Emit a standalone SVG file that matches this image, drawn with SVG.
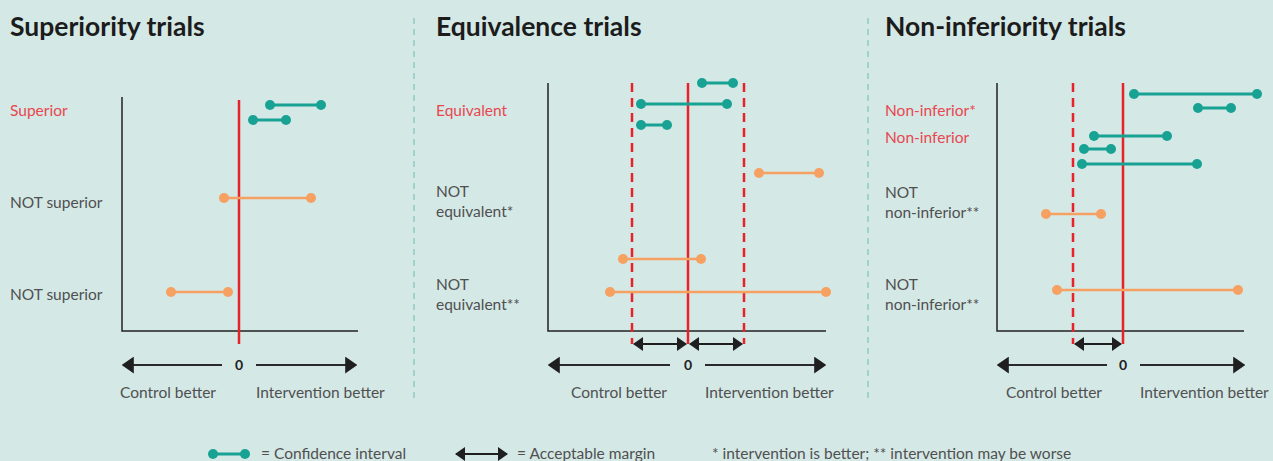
<svg xmlns="http://www.w3.org/2000/svg" width="1273" height="461" viewBox="0 0 1273 461">
<defs>
<marker id="ah" viewBox="0 0 10 14" refX="9" refY="7" markerWidth="12" markerHeight="17" markerUnits="userSpaceOnUse" orient="auto-start-reverse"><path d="M0,0 L10,7 L0,14 Z" fill="#1f1f1f"/></marker>
<marker id="ahs" viewBox="0 0 10 14" refX="9" refY="7" markerWidth="10" markerHeight="15" markerUnits="userSpaceOnUse" orient="auto-start-reverse"><path d="M0,0 L10,7 L0,14 Z" fill="#1f1f1f"/></marker>
</defs>
<style>
text{font-family:Lato,"Open Sans","Liberation Sans",sans-serif}
.title{font-size:26.5px;font-weight:bold;fill:#1c1c1c}
.lbl{font-size:15.5px;fill:#505050}
.red{fill:#e8474f}
.ax{stroke:#222;stroke-width:1.5;fill:none}
.zero{stroke:#e8222b;stroke-width:2.5}
.dash{stroke:#e8222b;stroke-width:2.5;stroke-dasharray:9,6}
.sep{stroke:#7cc3b8;stroke-width:1.2;stroke-dasharray:6,5}
.ba1{stroke:#2a2a2a;stroke-width:2;marker-end:url(#ah)}
.ma{stroke:#1f1f1f;stroke-width:2;marker-start:url(#ahs);marker-end:url(#ahs)}
.t line{stroke:#18a294;stroke-width:3}
.t circle{fill:#18a294}
.o line{stroke:#f6a062;stroke-width:2.5}
.o circle{fill:#f6a062}
.zt{font-size:14px;font-weight:bold;fill:#222;text-anchor:middle}
.leg{font-size:15.5px;fill:#505050}
</style>
<rect width="1273" height="461" fill="#d4e8e6"/>
<g id="separators">
<line class="sep" x1="414" y1="18" x2="414" y2="400"/>
<line class="sep" x1="868" y1="18" x2="868" y2="400"/>
</g>
<g id="panel-superiority">
<text class="title" x="10" y="36">Superiority trials</text>
<polyline class="ax" points="122,97 122,331 358,331"/>
<line class="zero" x1="239" y1="100" x2="239" y2="344"/>
<text class="lbl red" x="10" y="116">Superior</text>
<text class="lbl" x="10" y="208">NOT superior</text>
<text class="lbl" x="10" y="300">NOT superior</text>
<g class="t"><line x1="270" y1="105" x2="321" y2="105"/><circle cx="270" cy="105" r="5"/><circle cx="321" cy="105" r="5"/></g>
<g class="t"><line x1="253" y1="120" x2="286" y2="120"/><circle cx="253" cy="120" r="5"/><circle cx="286" cy="120" r="5"/></g>
<g class="o"><line x1="224" y1="198" x2="311" y2="198"/><circle cx="224" cy="198" r="5"/><circle cx="311" cy="198" r="5"/></g>
<g class="o"><line x1="171" y1="292" x2="228" y2="292"/><circle cx="171" cy="292" r="5"/><circle cx="228" cy="292" r="5"/></g>
<line class="ba1" x1="222" y1="365" x2="123" y2="365"/>
<line class="ba1" x1="256" y1="365" x2="356" y2="365"/>
<text class="zt" x="239" y="370">0</text>
<text class="lbl" x="120" y="398">Control better</text>
<text class="lbl" x="256" y="398">Intervention better</text>
</g>
<g id="panel-equivalence">
<text class="title" x="436" y="36">Equivalence trials</text>
<polyline class="ax" points="548,83 548,331 826,331"/>
<line class="dash" x1="632" y1="83" x2="632" y2="344"/>
<line class="dash" x1="744" y1="83" x2="744" y2="344"/>
<line class="zero" x1="688" y1="83" x2="688" y2="344"/>
<text class="lbl red" x="436" y="116">Equivalent</text>
<text class="lbl" x="436" y="197">NOT</text>
<text class="lbl" x="436" y="217">equivalent*</text>
<text class="lbl" x="436" y="290">NOT</text>
<text class="lbl" x="436" y="310">equivalent**</text>
<g class="t"><line x1="702" y1="83" x2="733" y2="83"/><circle cx="702" cy="83" r="5"/><circle cx="733" cy="83" r="5"/></g>
<g class="t"><line x1="641" y1="104" x2="727" y2="104"/><circle cx="641" cy="104" r="5"/><circle cx="727" cy="104" r="5"/></g>
<g class="t"><line x1="641" y1="125" x2="667" y2="125"/><circle cx="641" cy="125" r="5"/><circle cx="667" cy="125" r="5"/></g>
<g class="o"><line x1="759" y1="173" x2="819" y2="173"/><circle cx="759" cy="173" r="5"/><circle cx="819" cy="173" r="5"/></g>
<g class="o"><line x1="623" y1="259" x2="701" y2="259"/><circle cx="623" cy="259" r="5"/><circle cx="701" cy="259" r="5"/></g>
<g class="o"><line x1="610" y1="292" x2="826" y2="292"/><circle cx="610" cy="292" r="5"/><circle cx="826" cy="292" r="5"/></g>
<line class="ma" x1="634" y1="344" x2="686" y2="344"/>
<line class="ma" x1="690" y1="344" x2="742" y2="344"/>
<line class="ba1" x1="670" y1="365" x2="549" y2="365"/>
<line class="ba1" x1="705" y1="365" x2="825" y2="365"/>
<text class="zt" x="688" y="370">0</text>
<text class="lbl" x="571" y="398">Control better</text>
<text class="lbl" x="705" y="398">Intervention better</text>
</g>
<g id="panel-noninferiority">
<text class="title" x="885" y="36">Non-inferiority trials</text>
<polyline class="ax" points="997,83 997,331 1244,331"/>
<line class="dash" x1="1073" y1="83" x2="1073" y2="344"/>
<line class="zero" x1="1123" y1="83" x2="1123" y2="344"/>
<text class="lbl red" x="885" y="116">Non-inferior*</text>
<text class="lbl red" x="885" y="143">Non-inferior</text>
<text class="lbl" x="885" y="198">NOT</text>
<text class="lbl" x="885" y="218">non-inferior**</text>
<text class="lbl" x="885" y="290">NOT</text>
<text class="lbl" x="885" y="310">non-inferior**</text>
<g class="t"><line x1="1134" y1="94" x2="1257" y2="94"/><circle cx="1134" cy="94" r="5"/><circle cx="1257" cy="94" r="5"/></g>
<g class="t"><line x1="1198" y1="108" x2="1231" y2="108"/><circle cx="1198" cy="108" r="5"/><circle cx="1231" cy="108" r="5"/></g>
<g class="t"><line x1="1094" y1="136" x2="1167" y2="136"/><circle cx="1094" cy="136" r="5"/><circle cx="1167" cy="136" r="5"/></g>
<g class="t"><line x1="1084" y1="149" x2="1111" y2="149"/><circle cx="1084" cy="149" r="5"/><circle cx="1111" cy="149" r="5"/></g>
<g class="t"><line x1="1082" y1="164" x2="1197" y2="164"/><circle cx="1082" cy="164" r="5"/><circle cx="1197" cy="164" r="5"/></g>
<g class="o"><line x1="1046" y1="214" x2="1101" y2="214"/><circle cx="1046" cy="214" r="5"/><circle cx="1101" cy="214" r="5"/></g>
<g class="o"><line x1="1057" y1="290" x2="1238" y2="290"/><circle cx="1057" cy="290" r="5"/><circle cx="1238" cy="290" r="5"/></g>
<line class="ma" x1="1075" y1="344" x2="1121" y2="344"/>
<line class="ba1" x1="1107" y1="365" x2="998" y2="365"/>
<line class="ba1" x1="1140" y1="365" x2="1244" y2="365"/>
<text class="zt" x="1123" y="370">0</text>
<text class="lbl" x="1006" y="398">Control better</text>
<text class="lbl" x="1140" y="398">Intervention better</text>
</g>
<g id="legend">
<g class="t"><line x1="213" y1="454" x2="245" y2="454"/><circle cx="213" cy="454" r="5"/><circle cx="245" cy="454" r="5"/></g>
<text class="leg" x="261" y="459">= Confidence interval</text>
<line class="ma" x1="456" y1="454" x2="507" y2="454"/>
<text class="leg" x="517" y="459">= Acceptable margin</text>
<text class="leg" x="712" y="459">* intervention is better; ** intervention may be worse</text>
</g>
</svg>
